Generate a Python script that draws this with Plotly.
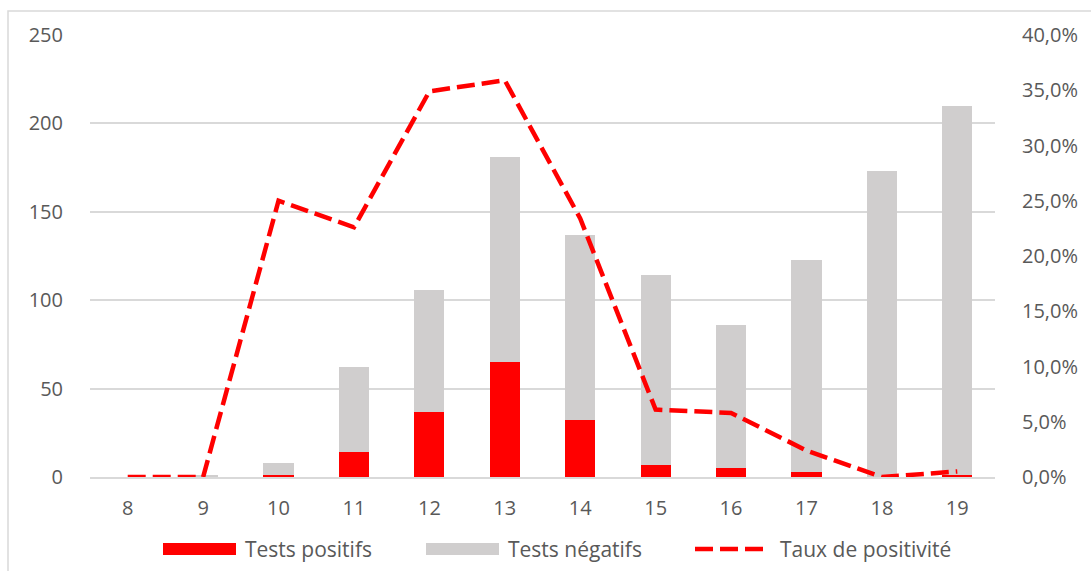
import plotly.graph_objects as go

weeks = ["8", "9", "10", "11", "12", "13", "14", "15", "16", "17", "18", "19"]
tests_positifs = [0, 0, 1, 14, 37, 65, 32, 7, 5, 3, 0, 1]
tests_negatifs = [0, 1, 7, 48, 69, 116, 105, 107, 81, 120, 173, 209]
taux_positivite = [0.0, 0.0, 0.250, 0.226, 0.349, 0.359, 0.234, 0.061, 0.058, 0.024, 0.0, 0.005]
series_names = ["Tests positifs", "Tests négatifs", "Taux de positivité"]

RED = "#ff0000"
GREY = "#d0cece"
GRID = "#d9d9d9"
TXT = "#595959"
FONT = "Open Sans"

fig = go.Figure()
fig.add_trace(go.Bar(x=weeks, y=tests_positifs, name=series_names[0],
                     marker=dict(color=RED, line=dict(width=0)), yaxis="y"))
fig.add_trace(go.Bar(x=weeks, y=tests_negatifs, name=series_names[1],
                     marker=dict(color=GREY, line=dict(width=0)), yaxis="y"))
fig.add_trace(go.Scatter(x=weeks, y=taux_positivite, name=series_names[2], mode="lines",
                         line=dict(color=RED, width=4.5, dash="18px,7px"), yaxis="y2"))

# plot area in pixels: x 90..995, y 35..477
L, R, T, B = 90, 995, 35, 477
W, H = R - L, B - T

def px(x):
    return (x - L) / W

def py(y):
    return (B - y) / H

shapes = [
    # outer chart border
    dict(type="rect", xref="paper", yref="paper", x0=px(8), x1=px(1110), y0=py(11), y1=py(600),
         line=dict(color=GRID, width=1.5), fillcolor="rgba(0,0,0,0)", layer="below"),
    # legend symbols
    dict(type="rect", xref="paper", yref="paper", x0=px(163), x1=px(236), y0=py(543), y1=py(555),
         fillcolor=RED, line=dict(width=0)),
    dict(type="rect", xref="paper", yref="paper", x0=px(426), x1=px(499), y0=py(543), y1=py(555),
         fillcolor=GREY, line=dict(width=0)),
    dict(type="line", xref="paper", yref="paper", x0=px(695), x1=px(764), y0=py(549), y1=py(549),
         line=dict(color=RED, width=4.5, dash="18px,7px")),
]
LEG_SIZE = 21
annotations = [
    dict(text=series_names[0], xref="paper", yref="paper", x=px(243), y=py(549),
         xanchor="left", yanchor="middle", showarrow=False, font=dict(family=FONT, size=LEG_SIZE, color=TXT)),
    dict(text=series_names[1], xref="paper", yref="paper", x=px(506), y=py(549),
         xanchor="left", yanchor="middle", showarrow=False, font=dict(family=FONT, size=LEG_SIZE, color=TXT)),
    dict(text=series_names[2], xref="paper", yref="paper", x=px(778), y=py(549),
         xanchor="left", yanchor="middle", showarrow=False, font=dict(family=FONT, size=LEG_SIZE, color=TXT)),
]

fig.update_layout(
    width=1091, height=571,
    margin=dict(l=L, r=1091 - R, t=T, b=571 - B, pad=0),
    barmode="stack", bargap=0.6,
    plot_bgcolor="white", paper_bgcolor="white",
    separators=", ",
    showlegend=False,
    font=dict(family=FONT, size=20, color=TXT),
    xaxis=dict(type="category", showgrid=False, showline=True, linecolor=GRID, linewidth=1.5,
               ticks="outside", ticklen=12, tickcolor="rgba(0,0,0,0)",
               tickfont=dict(family=FONT, size=20, color=TXT)),
    yaxis=dict(range=[0, 250], dtick=50, showgrid=True, gridcolor=GRID, gridwidth=1.5,
               zeroline=False, showline=False,
               ticks="outside", ticklen=22, tickcolor="rgba(0,0,0,0)",
               tickfont=dict(family=FONT, size=20, color=TXT)),
    yaxis2=dict(range=[0, 0.4], dtick=0.05, tickformat=".1%", overlaying="y", side="right",
                showgrid=False, zeroline=False, showline=False,
                ticks="outside", ticklen=22, tickcolor="rgba(0,0,0,0)",
                tickfont=dict(family=FONT, size=20, color=TXT)),
    shapes=shapes, annotations=annotations,
)

fig.write_html("out.html", config={"displayModeBar": False},
               post_script="document.body.style.margin='0';document.body.style.overflow='hidden';")
